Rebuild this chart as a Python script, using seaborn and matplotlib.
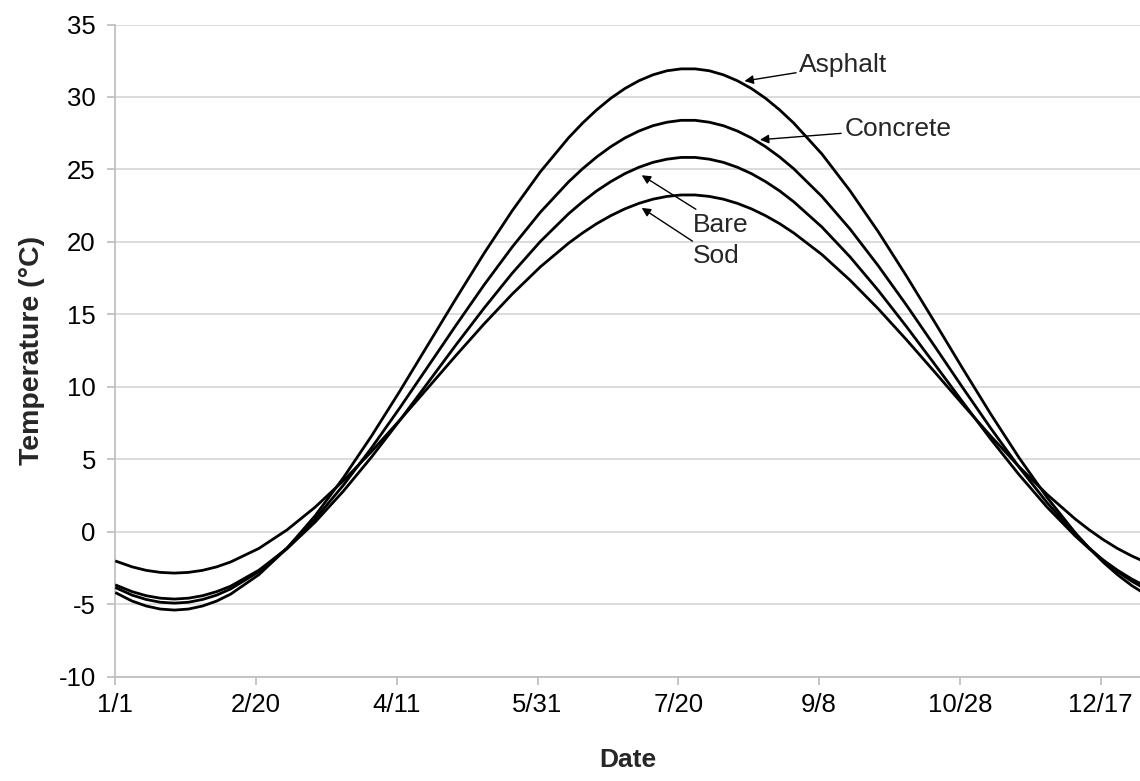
import matplotlib
matplotlib.use("Agg")
import matplotlib.pyplot as plt
import seaborn as sns
import pandas as pd

# Day of year (0 = 1/1) at which the curves were read
days = [0, 6, 11, 16, 21, 26, 31, 36, 41, 51, 61, 71, 81, 91, 101, 111, 121, 131,
        141, 151, 161, 166, 171, 176, 181, 186, 191, 196, 201, 206, 211, 216, 221,
        226, 231, 236, 241, 251, 261, 271, 281, 291, 301, 311, 321, 331, 341, 346,
        351, 356, 361, 365]

asphalt = [-4.19, -4.78, -5.12, -5.33, -5.40, -5.33, -5.12, -4.78, -4.30, -2.96,
           -1.14, 1.11, 3.72, 6.60, 9.68, 12.88, 16.08, 19.21, 22.15, 24.84, 27.18,
           28.20, 29.11, 29.91, 30.58, 31.12, 31.53, 31.81, 31.94, 31.94, 31.81,
           31.53, 31.12, 30.58, 29.91, 29.11, 28.20, 26.07, 23.53, 20.71, 17.66,
           14.49, 11.27, 8.12, 5.12, 2.37, -0.07, -1.14, -2.11, -2.96, -3.70, -4.19]
concrete = [-3.84, -4.37, -4.67, -4.86, -4.92, -4.86, -4.67, -4.37, -3.94, -2.75,
            -1.12, 0.88, 3.21, 5.78, 8.53, 11.38, 14.24, 17.03, 19.65, 22.05, 24.14,
            25.05, 25.86, 26.57, 27.17, 27.65, 28.02, 28.26, 28.39, 28.39, 28.26,
            28.02, 27.65, 27.17, 26.57, 25.86, 25.05, 23.14, 20.89, 18.36, 15.65,
            12.82, 9.95, 7.14, 4.47, 2.01, -0.16, -1.12, -1.99, -2.75, -3.40, -3.84]
bare = [-3.66, -4.13, -4.41, -4.58, -4.64, -4.58, -4.41, -4.13, -3.75, -2.65,
        -1.17, 0.67, 2.80, 5.15, 7.67, 10.27, 12.89, 15.43, 17.84, 20.03, 21.94,
        22.77, 23.52, 24.16, 24.71, 25.15, 25.49, 25.71, 25.83, 25.83, 25.71,
        25.49, 25.15, 24.71, 24.16, 23.52, 22.77, 21.03, 18.97, 16.66, 14.17,
        11.58, 8.96, 6.39, 3.95, 1.70, -0.29, -1.17, -1.96, -2.65, -3.25, -3.66]
sod = [-2.01, -2.42, -2.66, -2.80, -2.85, -2.80, -2.66, -2.42, -2.08, -1.15,
       0.13, 1.70, 3.52, 5.53, 7.69, 9.92, 12.16, 14.34, 16.40, 18.28, 19.91,
       20.62, 21.26, 21.81, 22.28, 22.66, 22.95, 23.14, 23.24, 23.24, 23.14,
       22.95, 22.66, 22.28, 21.81, 21.26, 20.62, 19.13, 17.36, 15.39, 13.26,
       11.04, 8.80, 6.60, 4.50, 2.58, 0.88, 0.13, -0.55, -1.15, -1.66, -2.01]

series_names = ["Asphalt", "Concrete", "Bare", "Sod"]
x_tick_days = [0, 50, 100, 150, 200, 250, 300, 350]
x_tick_labels = ["1/1", "2/20", "4/11", "5/31", "7/20", "9/8", "10/28", "12/17"]
y_ticks = [-10, -5, 0, 5, 10, 15, 20, 25, 30, 35]

df = pd.DataFrame({
    "day": days * 4,
    "temp": asphalt + concrete + bare + sod,
    "surface": sum([[n] * len(days) for n in series_names], []),
})

sns.set_theme(style="white")
plt.rcParams["font.family"] = ["Liberation Sans", "DejaVu Sans"]
plt.rcParams["axes.unicode_minus"] = False

fig = plt.figure(figsize=(11.4, 7.81), dpi=100)
ax = fig.add_axes([0.1011, 0.1335, 0.8989, 0.8351])

sns.lineplot(data=df, x="day", y="temp", units="surface", estimator=None,
             color="black", linewidth=2.0, ax=ax, legend=False, zorder=3)
for ln in ax.get_lines():
    ln.set_solid_joinstyle("round")
    ln.set_solid_capstyle("butt")

ax.set_xlim(0, 364)
ax.set_ylim(-10, 35)
ax.set_xticks(x_tick_days)
ax.set_xticklabels(x_tick_labels)
ax.set_yticks(y_ticks)
ax.yaxis.grid(True, color="#d9d9d9", linewidth=1.3, zorder=0)
ax.xaxis.grid(False)
for s in ["top", "right"]:
    ax.spines[s].set_visible(False)
for s in ["left", "bottom"]:
    ax.spines[s].set_color("#c0c0c0")
    ax.spines[s].set_linewidth(1.3)
ax.tick_params(axis="both", which="major", labelsize=18.5, colors="#c0c0c0",
               labelcolor="black", length=6, width=1.3, direction="out",
               bottom=True, left=True)
ax.tick_params(axis="x", pad=6)
ax.tick_params(axis="y", pad=8)

ax.set_xlabel("Date", fontsize=19, fontweight="bold", labelpad=22)
ax.set_ylabel("Temperature (°C)", fontsize=20.5, fontweight="bold", labelpad=10)

arrow = dict(arrowstyle="-|>", color="black", lw=1.0, mutation_scale=13,
             shrinkA=0, shrinkB=0)
ax.annotate("Asphalt", xy=(223.5, 31.1), xytext=(243, 32.2), fontsize=19,
            va="center", ha="left", arrowprops=arrow)
ax.annotate("Concrete", xy=(229, 27.05), xytext=(259, 27.8), fontsize=19,
            va="center", ha="left", arrowprops=arrow)
ax.annotate("Bare", xy=(187, 24.6), xytext=(205, 21.2), fontsize=19,
            va="center", ha="left", arrowprops=arrow)
ax.annotate("Sod", xy=(187, 22.35), xytext=(205, 19.0), fontsize=19,
            va="center", ha="left", arrowprops=arrow)

fig.savefig("out.png", dpi=100)
